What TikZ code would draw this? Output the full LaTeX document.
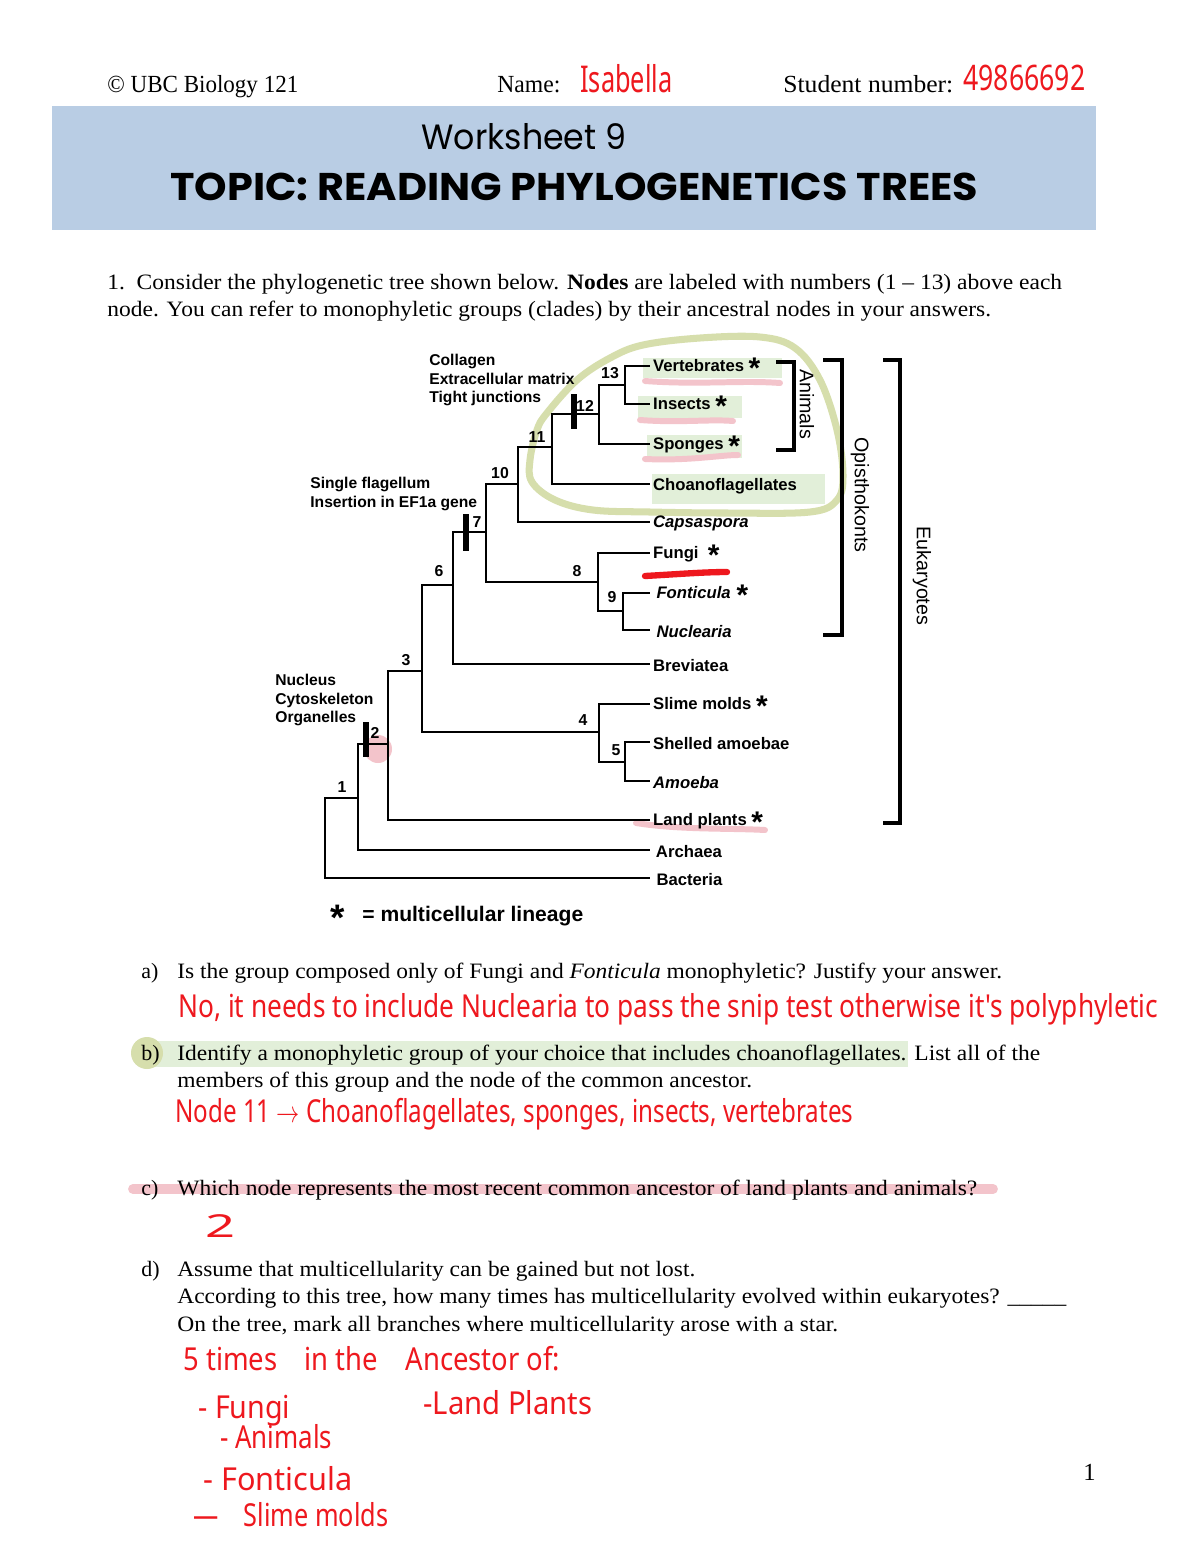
\documentclass[tikz,border=0pt]{standalone}
\usepackage{fontspec}
\setmainfont{Liberation Serif}
\setsansfont{Liberation Sans}
\newfontfamily\gothic{Poppins}
\newfontfamily\hand{Noto Sans}
\usetikzlibrary{positioning}

\definecolor{banner}{RGB}{185,205,228}
\definecolor{loopgreen}{RGB}{214,222,172}
\definecolor{hlgreen}{RGB}{226,239,217}
\definecolor{hlpink}{RGB}{243,196,203}
\definecolor{inkred}{RGB}{238,24,30}

\newcommand{\fitto}[2]{\resizebox{#1}{\height}{#2}}
\newcommand{\st}{\ \raisebox{-0.75ex}{\fontsize{17}{17}\selectfont *}}

\tikzset{
  branch/.style={line width=1pt},
  taxon/.style={anchor=west, inner xsep=1.6pt, inner ysep=0pt, yshift=-1pt,
    font=\sffamily\bfseries\fontsize{9.5}{11}\selectfont},
  nodenum/.style={inner sep=0pt, font=\sffamily\bfseries\fontsize{9}{10}\selectfont},
  trait/.style={anchor=west, align=left, inner sep=0pt,
    font=\sffamily\bfseries\fontsize{8.9}{10.8}\selectfont},
  clade/.style={line width=2.3pt},
  cladename/.style={rotate=-90, inner sep=0pt, font=\sffamily\fontsize{11.2}{12}\selectfont},
  body/.style={anchor=base west, inner sep=0pt, font=\fontsize{12.5}{15}\selectfont},
  ink/.style={anchor=base west, inner sep=0pt, text=inkred, font=\hand\fontsize{18}{20}\selectfont},
  marker/.style={line width=3.4pt, line cap=round, hlpink}
}

\begin{document}
\begin{tikzpicture}[x=0.02cm, y=-0.02cm]
\useasboundingbox (0,0) rectangle (1200,1553);
\fill[white] (0,0) rectangle (1200,1553);

% header
\node[anchor=base west, inner sep=0pt, font=\fontsize{14}{16}\selectfont] (course) at (107,92) {\fitto{3.82cm}{\copyright\ UBC Biology 121}};
\node[anchor=base west, inner sep=0pt, font=\fontsize{14}{16}\selectfont] (namelbl) at (497,92) {\fitto{1.26cm}{Name:}};
\node[ink, font=\hand\fontsize{21}{23}\selectfont] (name) at (580,92) {\fitto{1.84cm}{Isabella}};
\node[anchor=base west, inner sep=0pt, font=\fontsize{14}{16}\selectfont] (sidlbl) at (783,92) {\fitto{3.4cm}{Student number:}};
\node[ink, font=\hand\fontsize{20}{22}\selectfont] (sid) at (963,90) {\fitto{2.44cm}{49866692}};

\fill[banner] (52,106) rectangle (1096,230);
\node[anchor=base, inner sep=0pt, font=\gothic\fontsize{20}{24}\selectfont] (sheet) at (524,149) {\fitto{4.1cm}{Worksheet 9}};
\node[anchor=base west, inner sep=0pt, font=\gothic\bfseries\fontsize{22}{26}\selectfont] (topic) at (170,200) {\fitto{16.16cm}{TOPIC: READING PHYLOGENETICS TREES}};

\node[body] (q1a) at (107,289) {\fitto{19.1cm}{1.\enspace Consider the phylogenetic tree shown below. \textbf{Nodes} are labeled with numbers (1 -- 13) above each}};
\node[body] (q1b) at (107,316) {\fitto{17.68cm}{node. You can refer to monophyletic groups (clades) by their ancestral nodes in your answers.}};

% marks made on the tree
\draw[loopgreen, line width=4pt, line join=round] plot[smooth cycle, tension=0.6] coordinates {
  (530,460) (537,430) (547,413) (577,380) (610,358) (643,345) (700,338) (760,337)
  (795,348) (820,380) (837,430) (843,475) (837,500) (810,512) (727,513) (650,512)
  (593,510) (555,500) (532,482)};
\fill[hlgreen] (643,358) rectangle (782,378);
\fill[hlgreen] (638,396) rectangle (742,418);
\fill[hlgreen] (647,435) rectangle (742,458);
\fill[hlgreen] (652,474) rectangle (825,504);
\draw[marker] (645,381) .. controls (700,385) and (740,380) .. (780,383);
\draw[marker] (640,420) .. controls (680,423) and (710,419) .. (733,421);
\draw[marker] (645,459) .. controls (690,461) and (720,455) .. (738,455);
\draw[marker] (636,823) .. controls (680,830) and (730,828) .. (765,830);
\fill[hlpink] (378,749) circle (14);
\draw[inkred, line width=3.6pt, line cap=round] (645,576) .. controls (680,574) and (705,572) .. (727,572);

% tips
\node[taxon] (vert) at (650,366) {Vertebrates\st};
\node[taxon] (insect) at (650,404) {Insects\st};
\node[taxon] (spong) at (650,444) {Sponges\st};
\node[taxon] (choano) at (650,484) {Choanoflagellates};
\node[taxon] (caps) at (650,522) {\itshape Capsaspora};
\node[taxon] (fungi) at (650,553) {Fungi\ \st};
\node[taxon, inner xsep=3.5pt] (fonti) at (650,593) {\itshape Fonticula\st};
\node[taxon, inner xsep=3.5pt] (nucl) at (650,630) {\itshape Nuclearia};
\node[taxon] (brev) at (650,664) {Breviatea};
\node[taxon] (slime) at (650,704) {Slime molds\st};
\node[taxon] (shell) at (650,742) {Shelled amoebae};
\node[taxon] (amoeba) at (650,781) {\itshape Amoeba};
\node[taxon] (land) at (650,820) {Land plants\st};
\node[taxon, inner xsep=3.2pt] (arch) at (650,850) {Archaea};
\node[taxon, inner xsep=3.5pt] (bact) at (650,878) {Bacteria};

% internal nodes
\coordinate (root) at (325,838);
\coordinate (n1) at (358,798);
\coordinate (n2) at (388,744);
\coordinate (n3) at (422,671);
\coordinate (n4) at (599,732);
\coordinate (n5) at (625,762);
\coordinate (n6) at (453,585);
\coordinate (n7) at (486,532);
\coordinate (n8) at (598,582);
\coordinate (n9) at (623,611);
\coordinate (n10) at (518,484);
\coordinate (n11) at (552,447);
\coordinate (n12) at (599,414);
\coordinate (n13) at (625,385);

\draw[branch] (root) |- (n1) (root) |- ([yshift=1pt]bact.west)
  (n1) |- (n2) (n1) |- ([yshift=1pt]arch.west)
  (n2) |- (n3) (n2) |- ([yshift=1pt]land.west)
  (n3) |- (n6) (n3) |- (n4)
  (n6) |- (n7) (n6) |- ([yshift=1pt]brev.west)
  (n7) |- (n10) (n7) |- (n8)
  (n10) |- (n11) (n10) |- ([yshift=1pt]caps.west)
  (n11) |- (n12) (n11) |- ([yshift=1pt]choano.west)
  (n12) |- (n13) (n12) |- ([yshift=1pt]spong.west)
  (n13) |- ([yshift=1pt]vert.west) (n13) |- ([yshift=1pt]insect.west)
  (n8) |- ([yshift=1pt]fungi.west) (n8) |- (n9)
  (n9) |- ([yshift=1pt]fonti.west) (n9) |- ([yshift=1pt]nucl.west)
  (n4) |- ([yshift=1pt]slime.west) (n4) |- (n5)
  (n5) |- ([yshift=1pt]shell.west) (n5) |- ([yshift=1pt]amoeba.west);

\node[nodenum] (l1) at (342,787) {1};
\node[nodenum] (l2) at (375,733) {2};
\node[nodenum] (l3) at (406,660) {3};
\node[nodenum] (l4) at (583,720) {4};
\node[nodenum] (l5) at (616,750) {5};
\node[nodenum] (l6) at (439,571) {6};
\node[nodenum] (l7) at (477,522) {7};
\node[nodenum] (l8) at (577,571) {8};
\node[nodenum] (l9) at (612,597) {9};
\node[nodenum] (l10) at (500,473) {10};
\node[nodenum] (l11) at (537,437) {11};
\node[nodenum] (l12) at (585,406) {12};
\node[nodenum] (l13) at (610,373) {13};

% traits
\fill (571,394) rectangle (577,429);
\fill (463,514) rectangle (469,551);
\fill (363,722) rectangle (369,757);
\node[trait] (animaltraits) at (429,380) {Collagen\\Extracellular matrix\\Tight junctions};
\node[trait] (flagtraits) at (310,494) {Single flagellum\\Insertion in EF1a gene};
\node[trait] (eukatraits) at (275,700) {Nucleus\\Cytoskeleton\\Organelles};

% clades
\draw[clade] (776,362) -| (794,450) -- (776,450);
\draw[clade] (823,360) -| (842,635) -- (823,635);
\draw[clade] (883,360) -| (900,823) -- (883,823);
\node[cladename] (animals) at (807,404) {Animals};
\node[cladename] (opis) at (860,495) {Opisthokonts};
\node[cladename] (euk) at (922,576) {Eukaryotes};

\node[inner sep=0pt, font=\sffamily\bfseries\fontsize{21}{21}\selectfont] (legstar) at (338,918) {*};
\node[anchor=west, inner sep=0pt, font=\sffamily\bfseries\fontsize{12}{14}\selectfont] (legend) at (362,916) {= multicellular lineage};

% questions
\node[body] (qalbl) at (141,978) {a)};
\node[body] (qa) at (177,978) {\fitto{16.5cm}{Is the group composed only of Fungi and \textit{Fonticula} monophyletic? Justify your answer.}};
\node[ink] (ansa) at (178,1017) {\fitto{19.6cm}{No, it needs to include Nuclearia to pass the snip test otherwise it's polyphyletic}};

\fill[hlgreen] (140,1041) rectangle (908,1067);
\fill[loopgreen] (147,1053) circle (16);
\node[body] (qblbl) at (141,1060) {b)};
\node[body] (qb) at (177,1060) {\fitto{17.26cm}{Identify a monophyletic group of your choice that includes choanoflagellates. List all of the}};
\node[body] (qb2) at (177,1087) {\fitto{11.5cm}{members of this group and the node of the common ancestor.}};
\node[ink] (ansb) at (175,1122) {\fitto{13.56cm}{Node 11 $\rightarrow$ Choanoflagellates, sponges, insects, vertebrates}};

\draw[hlpink, line width=5.6pt, line cap=round] (133,1189) -- (993,1189);
\node[body] (qclbl) at (141,1195) {c)};
\node[body] (qc) at (177,1195) {\fitto{16cm}{Which node represents the most recent common ancestor of land plants and animals?}};
\node[ink] (ansc) at (205,1237) {\fitto{0.6cm}{2}};

\node[body] (qdlbl) at (141,1276) {d)};
\node[body] (qd) at (177,1276) {\fitto{10.36cm}{Assume that multicellularity can be gained but not lost.}};
\node[body] (qd2) at (177,1303) {\fitto{17.78cm}{According to this tree, how many times has multicellularity evolved within eukaryotes? \_\_\_\_\_}};
\node[body] (qd3) at (177,1331) {\fitto{13.22cm}{On the tree, mark all branches where multicellularity arose with a star.}};

\node[ink] (ansd) at (183,1370) {\fitto{7.54cm}{5 times\quad in the\quad Ancestor of:}};
\node[ink] (ansfungi) at (198,1418) {\fitto{1.84cm}{- Fungi}};
\node[ink] (ansland) at (423,1414) {\fitto{3.38cm}{-Land Plants}};
\node[ink] (ansanim) at (220,1448) {\fitto{2.24cm}{- Animals}};
\node[ink] (ansfont) at (203,1490) {\fitto{2.98cm}{- Fonticula}};
\node[ink] (ansslime) at (193,1526) {\fitto{3.9cm}{—\quad Slime molds}};

\node[anchor=base west, inner sep=0pt, font=\fontsize{14}{16}\selectfont] (pagenum) at (1083,1480) {1};
\end{tikzpicture}
\end{document}
